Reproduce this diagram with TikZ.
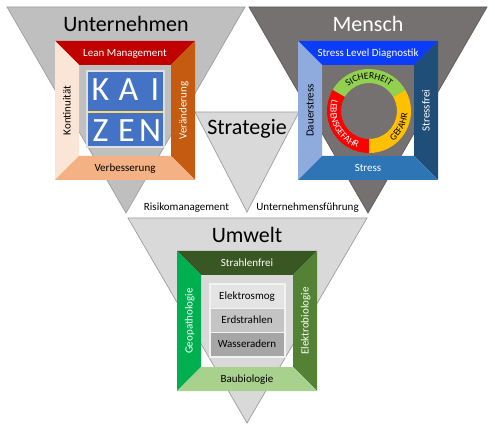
\documentclass[tikz,border=0pt]{standalone}
\usepackage{fontspec}
\setmainfont{Carlito}
\usetikzlibrary{decorations.text}

\definecolor{triL}{HTML}{BFBFBF}
\definecolor{triR}{HTML}{767171}
\definecolor{triC}{HTML}{D9D9D9}
\definecolor{triline}{HTML}{9E9E9E}
\definecolor{leanred}{HTML}{C00000}
\definecolor{kontpeach}{HTML}{FBE5D6}
\definecolor{veraorange}{HTML}{C55A11}
\definecolor{verblight}{HTML}{F4B183}
\definecolor{kaiblue}{HTML}{4472C4}
\definecolor{kaiyellow}{HTML}{FFD966}
\definecolor{sldblue}{HTML}{0A3CFA}
\definecolor{dauerblue}{HTML}{8FAADC}
\definecolor{freiblue}{HTML}{1F4E79}
\definecolor{stressblue}{HTML}{2E75B6}
\definecolor{ringgreen}{HTML}{92D050}
\definecolor{ringred}{HTML}{FF0000}
\definecolor{ringgold}{HTML}{FFC000}
\definecolor{strahlgreen}{HTML}{385723}
\definecolor{geogreen}{HTML}{00B050}
\definecolor{elekgreen}{HTML}{548235}
\definecolor{baugreen}{HTML}{A9D18E}
\definecolor{boxA}{HTML}{E4E4E4}
\definecolor{boxB}{HTML}{C4C4C4}
\definecolor{boxC}{HTML}{A6A6A6}
\definecolor{boxline}{HTML}{F2F2F2}

% picture frame: #1 x0, #2 y0, #3 x1, #4 y1, #5 top, #6 left, #7 right, #8 bottom
\newcommand{\picframe}[8]{%
  \fill[#5] (#1,#2) -- (#3,#2) -- (#3-24,#2+24) -- (#1+24,#2+24) -- cycle;
  \fill[#6] (#1,#2) -- (#1+24,#2+24) -- (#1+24,#4-24) -- (#1,#4) -- cycle;
  \fill[#7] (#3,#2) -- (#3,#4) -- (#3-24,#4-24) -- (#3-24,#2+24) -- cycle;
  \fill[#8] (#1,#4) -- (#1+24,#4-24) -- (#3-24,#4-24) -- (#3,#4) -- cycle;
}

\newcommand{\ringfont}{\fontsize{9.5}{10}\selectfont}

\begin{document}
\begin{tikzpicture}[x=1pt,y=-1pt,
  tri/.style={draw=triline, line width=0.7pt, line join=miter},
  title/.style={font=\fontsize{22}{24}\selectfont, anchor=base, inner sep=0pt},
  lbl/.style={font=\fontsize{11}{13}\selectfont, inner sep=0pt, text height=7.1pt, text depth=0pt},
  sublbl/.style={font=\fontsize{11}{13}\selectfont, inner sep=0pt, anchor=base},
  kai/.style={font=\fontsize{34}{36}\selectfont, text=white, anchor=base, inner sep=0pt},
  ibox/.style={draw=boxline, line width=1pt, minimum width=74pt, minimum height=24pt,
    inner sep=0pt, text height=7.1pt, text depth=0pt, font=\fontsize{11}{13}\selectfont}
]
\useasboundingbox (0,0) rectangle (495,430);
\fill[white] (0,0) rectangle (495,430);

% triangles
\draw[tri, fill=triL] (7,7) -- (245,7) -- (126,213) -- cycle;
\draw[tri, draw=triR!80!black, fill=triR] (249,7) -- (487,7) -- (368,213) -- cycle;
\draw[tri, fill=triC] (195,112) -- (299,112) -- (247,212) -- cycle;
\draw[tri, fill=triC] (128,218) -- (367,218) -- (247,423) -- cycle;

% titles
\node[title] (unternehmen) at (126,32) {Unternehmen};
\node[title, text=white] (mensch) at (368,32) {Mensch};
\node[title] (strategie) at (247,135) {Strategie};
\node[title] (umwelt) at (247,243) {Umwelt};

\node[sublbl] (risiko) at (186.5,211) {Risikomanagement};
\node[sublbl] (fuehrung) at (307.5,211) {Unternehmensführung};

% ---------- left frame (KAIZEN)
\picframe{55}{41}{195}{180}{leanred}{kontpeach}{veraorange}{verblight}
\node[lbl, text=white] (lean) at (125,53) {Lean Management};
\node[lbl] (verb) at (125,168) {Verbesserung};
\node[lbl, rotate=90] (kont) at (67,110.5) {Kontinuität};
\node[lbl, rotate=90, text=white] (vera) at (183,110.5) {Veränderung};

\draw[gray!25, line width=1.5pt, fill=kaiblue] (87,71) rectangle (164,147);
\draw[kaiyellow, line width=2.5pt] (87.8,112) -- (163.2,112);
\node[kai] (k1) at (100.5,101) {K};
\node[kai] (k2) at (128.5,101) {A};
\node[kai] (k3) at (155,101) {I};
\node[kai] (k4) at (100.5,142) {Z};
\node[kai] (k5) at (126.5,142) {E};
\node[kai] (k6) at (150,142) {N};

% ---------- right frame (Mensch)
\picframe{298}{41}{438}{180}{sldblue}{dauerblue}{freiblue}{stressblue}
\node[lbl, text=white] (sld) at (368,53) {Stress Level Diagnostik};
\node[lbl, text=white] (stress) at (368,168) {Stress};
\node[lbl, rotate=90] (dauer) at (310,110.5) {Dauerstress};
\node[lbl, rotate=90, text=white] (frei) at (426,110.5) {Stressfrei};

\begin{scope}[shift={(369,111)}, x=1pt, y=1pt]
  \fill[ringgreen] (30:42) arc[start angle=30, end angle=150, radius=42]
     -- (150:28) arc[start angle=150, end angle=30, radius=28] -- cycle;
  \fill[ringred] (150:42) arc[start angle=150, end angle=270, radius=42]
     -- (270:28) arc[start angle=270, end angle=150, radius=28] -- cycle;
  \fill[ringgold] (270:42) arc[start angle=270, end angle=390, radius=42]
     -- (390:28) arc[start angle=390, end angle=270, radius=28] -- cycle;
  \path[decorate, decoration={text along path, text align=center,
      text={|\ringfont|SICHERHEIT}}]
     (150:32) arc[start angle=150, end angle=30, radius=32];
  \path[decorate, decoration={text along path, text align=center,
      text={|\color{white}\ringfont|LEBENSGEFAHR}}]
     (150:38.5) arc[start angle=150, end angle=265, radius=38.5];
  \path[decorate, decoration={text along path, text align=center,
      text={|\ringfont|GEFAHR}}]
     (275:38.5) arc[start angle=275, end angle=390, radius=38.5];
\end{scope}

% ---------- bottom frame (Umwelt)
\picframe{177}{251}{317}{391}{strahlgreen}{geogreen}{elekgreen}{baugreen}
\node[lbl, text=white] (strahl) at (247,263) {Strahlenfrei};
\node[lbl] (bau) at (247,379) {Baubiologie};
\node[lbl, rotate=90, text=white] (geo) at (189,321) {Geopathologie};
\node[lbl, rotate=90, text=white] (elek) at (305,321) {Elektrobiologie};

\draw[boxline, line width=1pt] (209,283) rectangle (285,357);
\node[ibox, fill=boxA] (smog) at (247,296) {Elektrosmog};
\node[ibox, fill=boxB] (erd) at (247,320) {Erdstrahlen};
\node[ibox, fill=boxC] (wasser) at (247,344) {Wasseradern};
\end{tikzpicture}
\end{document}
